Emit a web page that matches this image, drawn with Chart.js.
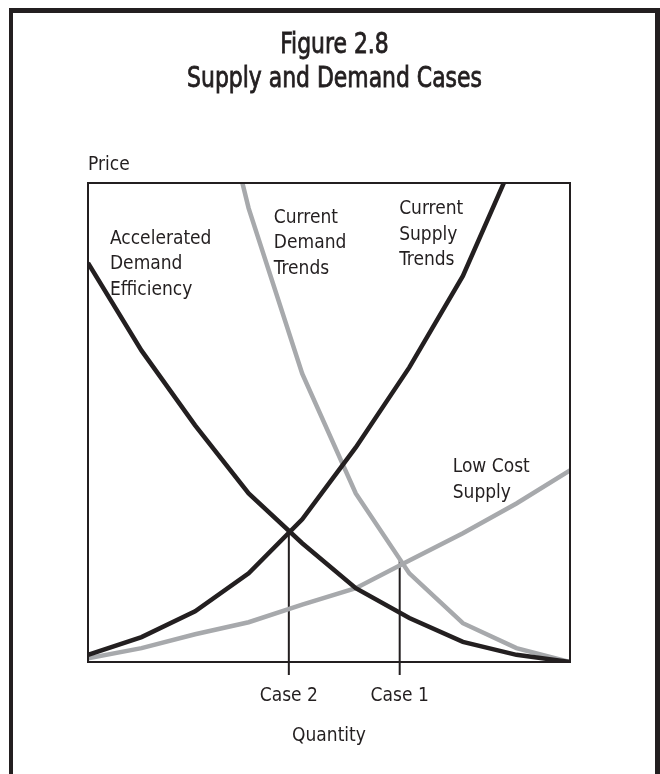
<!DOCTYPE html>
<html lang="en">
<head>
  <meta charset="UTF-8">
  <title>Figure 2.8 Supply and Demand Cases</title>
  <script src="https://cdn.jsdelivr.net/npm/chart.js"></script>
  <style>
    body { margin: 0; background: #fff; }
  </style>
</head>
<body>
  <canvas id="myChart" width="660" height="774"></canvas>

  <script>
    // quantity steps along the x axis
    const quantity = [0, 1, 2, 3, 4, 5, 6, 7, 8, 9];

    // price values (0-100 scale)
    const acceleratedDemand = [83.3, 65, 49.4, 35.2, 24.8, 15.4, 9.2, 4.2, 1.5, 0];
    const currentSupply = [1.5, 5.2, 10.6, 18.5, 29.8, 44.8, 61.5, 80.6, 106, null];
    const currentDemand = [null, null, 140, 94.7, 60.2, 35.2, 18.5, 8.1, 2.9, 0];
    const lowCostSupply = [0.8, 2.9, 5.8, 8.3, 12, 15.4, 21.2, 26.9, 33.1, 40];

    // the two equilibrium cases marked on the quantity axis
    const caseLabels = ['Case 2', 'Case 1'];
    const caseQuantity = [3.75, 5.82];
    const casePrice = [27.1, 21.5];
    const caseFoot = -2.7;

    const BLACK = '#231f20';
    const GRAY = '#a7a9ac';
    const FONT = '"DejaVu Sans Condensed", "Liberation Sans Narrow", sans-serif';

    // curve captions, anchored in data units (first line baseline)
    const captions = [
      { lines: ['Accelerated', 'Demand', 'Efficiency'], x: 0.41, y: 87.3 },
      { lines: ['Current', 'Demand', 'Trends'], x: 3.47, y: 91.7 },
      { lines: ['Current', 'Supply', 'Trends'], x: 5.81, y: 93.5 },
      { lines: ['Low Cost', 'Supply'], x: 6.81, y: 39.6 }
    ];

    function toPoints(values) {
      return quantity.map((q, i) => ({ x: q, y: values[i] }));
    }

    const curve = (label, values, color) => ({
      label: label,
      data: toPoints(values),
      borderColor: color,
      borderWidth: 4.5,
      pointRadius: 0,
      tension: 0,
      fill: false
    });

    const caseSets = caseQuantity.map((q, i) => ({
      label: caseLabels[i],
      data: [{ x: q, y: casePrice[i] }, { x: q, y: caseFoot }],
      borderColor: BLACK,
      borderWidth: 2,
      pointRadius: 0,
      clip: false
    }));

    // text squeezed horizontally, the original uses a condensed face
    function narrowText(ctx, text, x, y, sx, weight) {
      ctx.save();
      ctx.translate(x, y);
      ctx.scale(sx, 1);
      ctx.fillText(text, 0, 0);
      if (weight) {
        ctx.lineWidth = weight;
        ctx.strokeText(text, 0, 0);
      }
      ctx.restore();
    }

    // frame, box, title and captions
    const decorations = {
      id: 'decorations',
      beforeDraw(chart) {
        const ctx = chart.ctx;
        ctx.save();
        ctx.fillStyle = '#fff';
        ctx.fillRect(0, 0, chart.width, chart.height);
        ctx.fillStyle = BLACK;
        ctx.strokeStyle = BLACK;
        ctx.fillRect(9, 8, 4, chart.height);
        ctx.fillRect(655, 8, 5, chart.height);
        ctx.fillRect(9, 8, 651, 5);

        ctx.textAlign = 'center';
        ctx.textBaseline = 'alphabetic';
        ctx.font = '29px ' + FONT;
        narrowText(ctx, 'Figure 2.8', 334.5, 53, 0.84, 0.8);
        narrowText(ctx, 'Supply and Demand Cases', 334.5, 87, 0.84, 0.8);

        ctx.textAlign = 'left';
        ctx.font = '20px ' + FONT;
        narrowText(ctx, 'Price', chart.chartArea.left, 170, 0.95);
        ctx.restore();
      },
      afterDatasetsDraw(chart) {
        const { ctx, chartArea: a, scales } = chart;
        ctx.save();
        ctx.strokeStyle = BLACK;
        ctx.lineWidth = 2;
        ctx.strokeRect(a.left, a.top, a.right - a.left, a.bottom - a.top);

        ctx.fillStyle = BLACK;
        ctx.font = '20px ' + FONT;
        ctx.textAlign = 'left';
        ctx.textBaseline = 'alphabetic';
        captions.forEach(c => {
          const px = scales.x.getPixelForValue(c.x);
          const py = scales.y.getPixelForValue(c.y);
          c.lines.forEach((t, i) => narrowText(ctx, t, px, py + i * 25.5, 0.95));
        });
        ctx.restore();
      }
    };

    const ctx = document.getElementById('myChart').getContext('2d');
    new Chart(ctx, {
      type: 'line',
      data: {
        datasets: [
          curve('Current Supply Trends', currentSupply, BLACK),
          curve('Accelerated Demand Efficiency', acceleratedDemand, BLACK),
          curve('Current Demand Trends', currentDemand, GRAY),
          curve('Low Cost Supply', lowCostSupply, GRAY),
          ...caseSets
        ]
      },
      options: {
        responsive: false,
        animation: false,
        layout: { padding: { left: 88, top: 183, right: 90, bottom: 0 } },
        plugins: {
          legend: { display: false },
          tooltip: { enabled: false }
        },
        scales: {
          x: {
            type: 'linear',
            min: 0,
            max: 9,
            grid: { display: false, drawTicks: false },
            border: { display: false },
            afterBuildTicks: scale => {
              scale.ticks = caseQuantity.map(v => ({ value: v }));
            },
            afterFit: scale => { scale.height = 112; },
            ticks: {
              padding: 23,
              color: BLACK,
              font: { family: FONT, size: 19 },
              maxRotation: 0,
              autoSkip: false,
              callback: (value, index) => caseLabels[index]
            },
            title: {
              display: true,
              text: 'Quantity',
              color: BLACK,
              font: { family: FONT, size: 19 },
              padding: { top: 0, bottom: 27 }
            }
          },
          y: {
            display: false,
            min: 0,
            max: 100
          }
        }
      },
      plugins: [decorations]
    });
  </script>
</body>
</html>
